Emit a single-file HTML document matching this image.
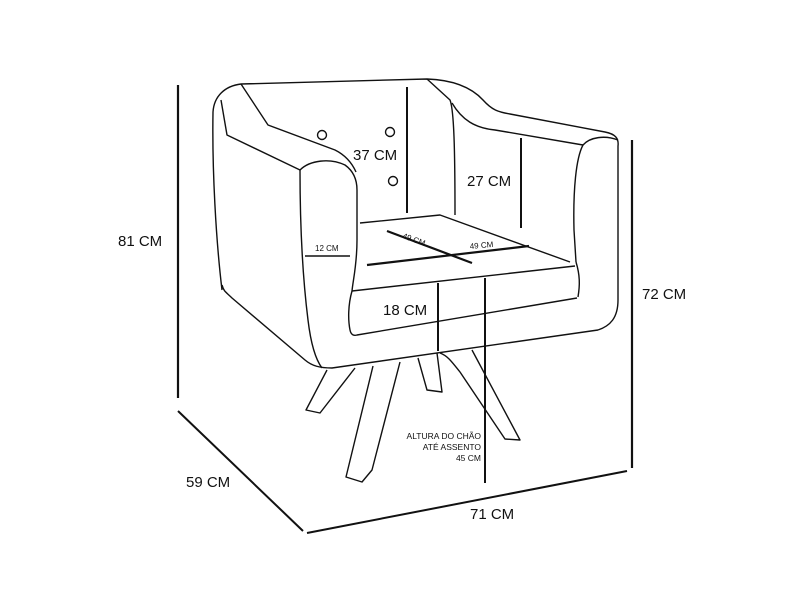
<!DOCTYPE html>
<html><head><style>
html,body{margin:0;padding:0;background:#fff;}
svg{display:block;}
text{font-family:"Liberation Sans",sans-serif;fill:#111;}
</style></head><body>
<svg width="810" height="590" viewBox="0 0 810 590" xmlns="http://www.w3.org/2000/svg">
<g fill="none" stroke="#111" stroke-width="1.4" stroke-linejoin="round">
<path d="M222,290 C216,240 212,170 213,112 C214,96 225,86 241,84 L427,79 C455,80 472,88 483,100 C492,110 498,112 510,114 L605,132 C615,134 619,138 618,146 L618,300 C618,318 610,326 598,330"/>
<path d="M222,285 C224,292 226,292 232,298 L305,360 C312,366 320,368 332,368 L598,330"/>
<path d="M221,100 L227,135 L300,170"/>
<path d="M241,84 L268,125 L335,150 C345,155 352,163 356,172"/>
<path d="M300,170 C310,160 330,158 345,165 C352,170 357,178 357,190 L357,240 C357,265 353,280 352,291"/>
<path d="M300,170 C300,230 303,280 308,320 C311,345 316,360 322,368"/>
<path d="M427,79 L450,100 C454,110 455,150 455,215"/>
<path d="M452,103 C462,120 475,128 495,130 L583,145"/>
<path d="M618,140 C605,135 590,137 583,145 C576,158 573,190 574,230 L576,262"/>
<path d="M576,262 C580,275 580,285 578,297"/>
<path d="M360,223 L440,215 L570,262"/>
<path d="M352,291 L575,266"/>
<path d="M352,291 C348,305 348,320 350,330 C351,335 354,336 357,335 L577,298"/>
<circle cx="322" cy="135" r="4.5"/>
<circle cx="390" cy="132" r="4.5"/>
<circle cx="393" cy="181" r="4.5"/>
<path d="M327,370 L306,410 L320,413 L355,368"/>
<path d="M373,366 L346,477 L362,482 L372,470 L400,362"/>
<path d="M418,358 L427,390 L442,392 L437,353"/>
<path d="M440,353 C448,356 452,362 460,372 L505,439 L520,440 L472,350"/>
</g>
<g stroke="#111" fill="none">
<line x1="407" y1="87" x2="407" y2="213" stroke-width="2"/>
<line x1="521" y1="138" x2="521" y2="228" stroke-width="2"/>
<line x1="387" y1="231" x2="472" y2="263" stroke-width="2.2"/>
<line x1="367" y1="265" x2="529" y2="246" stroke-width="2.2"/>
<line x1="305" y1="256" x2="350" y2="256" stroke-width="1.5"/>
<line x1="438" y1="283" x2="438" y2="351" stroke-width="2"/>
<line x1="485" y1="278" x2="485" y2="483" stroke-width="2"/>
<line x1="178" y1="85" x2="178" y2="398" stroke-width="2.2"/>
<line x1="632" y1="140" x2="632" y2="468" stroke-width="2.2"/>
<line x1="178" y1="411" x2="303" y2="531" stroke-width="2"/>
<line x1="307" y1="533" x2="627" y2="471" stroke-width="2"/>
</g>
<g font-size="15">
<text x="118" y="246">81 CM</text>
<text x="642" y="299">72 CM</text>
<text x="186" y="487">59 CM</text>
<text x="470" y="519">71 CM</text>
<text x="353" y="160">37 CM</text>
<text x="467" y="186">27 CM</text>
<text x="383" y="315">18 CM</text>
</g>
<text x="315" y="251" font-size="8">12 CM</text>
<text x="402" y="238" font-size="8" transform="rotate(20 402 238)">49 CM</text>
<text x="470" y="249" font-size="8" transform="rotate(-5 470 249)">49 CM</text>
<g font-size="8.5" text-anchor="end">
<text x="481" y="439">ALTURA DO CHÃO</text>
<text x="481" y="450">ATÉ ASSENTO</text>
<text x="481" y="461">45 CM</text>
</g>
</svg>
</body></html>
